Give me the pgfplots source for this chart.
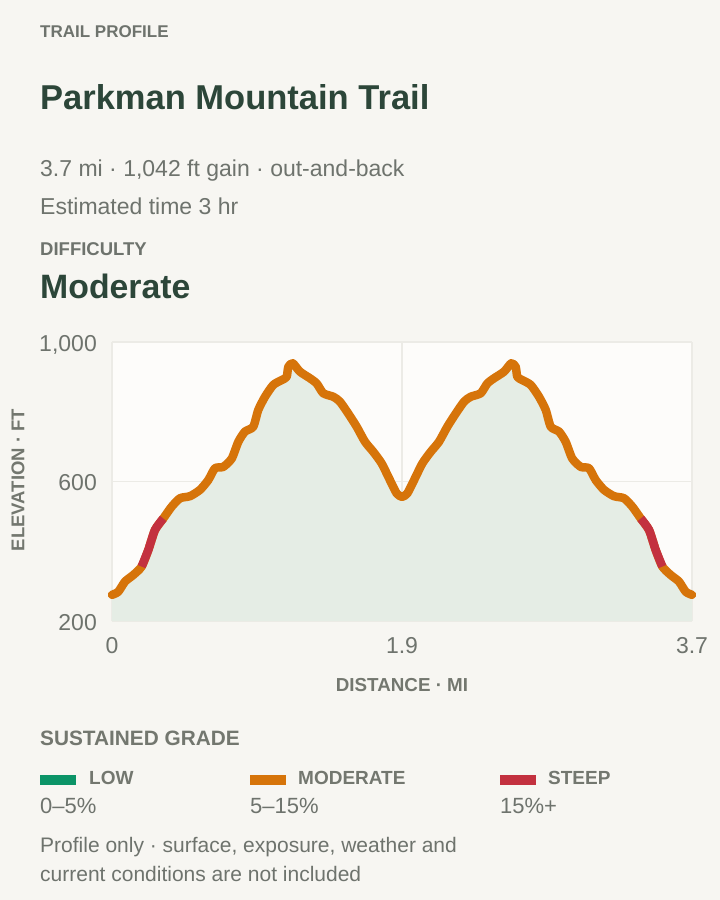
\documentclass[border=0pt]{standalone}
\usepackage{pgfplots}
\pgfplotsset{compat=1.18}
\usepackage{pgfplotstable}
\usepackage{fontspec}
\setmainfont{Liberation Sans}
\definecolor{pagebg}{HTML}{F7F6F2}
\definecolor{plotbg}{HTML}{FDFCFA}
\definecolor{gridc}{HTML}{ECEBE6}
\definecolor{areac}{HTML}{E5EDE5}
\definecolor{orangec}{HTML}{D6740A}
\definecolor{redc}{HTML}{C3313F}
\definecolor{greenc}{HTML}{0B9467}
\definecolor{titlec}{HTML}{2C4639}
\definecolor{textc}{HTML}{6E736D}
\definecolor{labelc}{HTML}{73776F}

\pgfplotstableread{
x y
0.000 275
0.040 284
0.083 313
0.136 332
0.189 356
0.232 404
0.274 461
0.327 494
0.381 528
0.434 552
0.498 558
0.561 576
0.614 604
0.657 638
0.710 642
0.764 666
0.806 714
0.848 743
0.901 757
0.933 805
0.976 843
1.029 877
1.083 891
1.114 900
1.125 929
1.153 939
1.199 915
1.263 896
1.306 881
1.348 853
1.412 843
1.454 829
1.507 795
1.561 757
1.614 714
1.667 685
1.720 652
1.773 604
1.816 566
1.850 556
1.884 566
1.927 604
1.980 652
2.033 685
2.086 714
2.139 757
2.193 795
2.246 829
2.288 843
2.352 853
2.394 881
2.437 896
2.501 915
2.547 939
2.575 929
2.586 900
2.617 891
2.671 877
2.724 843
2.767 805
2.799 757
2.852 743
2.894 714
2.936 666
2.990 642
3.043 638
3.086 604
3.139 576
3.202 558
3.266 552
3.319 528
3.373 494
3.426 461
3.468 404
3.511 356
3.564 332
3.617 313
3.660 284
3.700 275
}\profile

\pgfplotstableread{
x y
0.189 356
0.232 404
0.274 461
0.327 494
}\steepA

\pgfplotstableread{
x y
3.373 494
3.426 461
3.468 404
3.511 356
}\steepB

\begin{document}
\begin{tikzpicture}
\begin{scope}[x=1pt,y=1pt]
\path[use as bounding box] (0,0) rectangle (720,-900);
\fill[pagebg] (0,0) rectangle (720,-900);

\node[anchor=base west, inner sep=0, text=textc, font=\bfseries\fontsize{17}{20}\selectfont] at (40,-37) {TRAIL PROFILE};
\node[anchor=base west, inner sep=0, text=titlec, font=\bfseries\fontsize{34.5}{40}\selectfont] at (40,-109) {Parkman Mountain Trail};
\node[anchor=base west, inner sep=0, text=textc, font=\fontsize{23}{26}\selectfont] at (40,-176) {3.7 mi · 1,042 ft gain · out-and-back};
\node[anchor=base west, inner sep=0, text=textc, font=\fontsize{23}{26}\selectfont] at (40,-214) {Estimated time 3 hr};
\node[anchor=base west, inner sep=0, text=textc, font=\bfseries\fontsize{18.5}{22}\selectfont] at (40,-255) {DIFFICULTY};
\node[anchor=base west, inner sep=0, text=titlec, font=\bfseries\fontsize{33.8}{38}\selectfont] at (40,-298) {Moderate};
\end{scope}

\begin{axis}[
  at={(112pt,-621pt)}, anchor=south west,
  scale only axis, width=580pt, height=279pt,
  xmin=0, xmax=3.7, ymin=200, ymax=1000,
  clip=false,
  axis line style={draw=none},
  tick style={draw=none},
  grid=major,
  major grid style={gridc, line width=1.5pt},
  axis background/.style={fill=plotbg},
  xtick={0,1.85,3.7}, xticklabels={0,1.9,3.7},
  ytick={200,600,1000}, yticklabels={200,600,{1,000}},
  ticklabel style={font=\fontsize{23}{23}\selectfont, text=textc, inner sep=0pt},
  xticklabel style={anchor=base, yshift=-32pt},
  yticklabel style={anchor=base east, xshift=-15pt, yshift=-9pt},
  every axis plot/.append style={mark=none},
]
\addplot[fill=areac, draw=none, smooth, tension=0.4] table {\profile} -- (axis cs:3.7,200) -- (axis cs:0,200) -- cycle;
\addplot[orangec, line width=8.5pt, line cap=round, line join=round, smooth, tension=0.4] table {\profile};
\addplot[redc, line width=8.5pt, smooth, tension=0.4] table {\steepA};
\addplot[redc, line width=8.5pt, smooth, tension=0.4] table {\steepB};
\end{axis}

\begin{scope}[x=1pt,y=1pt]
\node[rotate=90, anchor=center, inner sep=0, text=labelc, font=\bfseries\fontsize{18.5}{20}\selectfont] at (18,-480) {ELEVATION · FT};
\node[anchor=base, inner sep=0, text=labelc, font=\bfseries\fontsize{18.8}{20}\selectfont] at (402,-691) {DISTANCE · MI};

\node[anchor=base west, inner sep=0, text=labelc, font=\bfseries\fontsize{20.8}{24}\selectfont] at (40,-745) {SUSTAINED GRADE};
\fill[greenc] (40,-775) rectangle (76,-785);
\fill[orangec] (250,-775) rectangle (286,-785);
\fill[redc] (500,-775) rectangle (536,-785);
\node[anchor=base west, inner sep=0, text=labelc, font=\bfseries\fontsize{19}{22}\selectfont] at (89,-784) {LOW};
\node[anchor=base west, inner sep=0, text=labelc, font=\bfseries\fontsize{19}{22}\selectfont] at (298,-784) {MODERATE};
\node[anchor=base west, inner sep=0, text=labelc, font=\bfseries\fontsize{19}{22}\selectfont] at (548,-784) {STEEP};
\node[anchor=base west, inner sep=0, text=textc, font=\fontsize{22}{26}\selectfont] at (40,-813) {0–5\%};
\node[anchor=base west, inner sep=0, text=textc, font=\fontsize{22}{26}\selectfont] at (250,-813) {5–15\%};
\node[anchor=base west, inner sep=0, text=textc, font=\fontsize{22}{26}\selectfont] at (500,-813) {15\%+};
\node[anchor=base west, inner sep=0, text=textc, font=\fontsize{21}{26}\selectfont] at (40,-852) {Profile only · surface, exposure, weather and};
\node[anchor=base west, inner sep=0, text=textc, font=\fontsize{21}{26}\selectfont] at (40,-881) {current conditions are not included};
\end{scope}
\end{tikzpicture}
\end{document}
